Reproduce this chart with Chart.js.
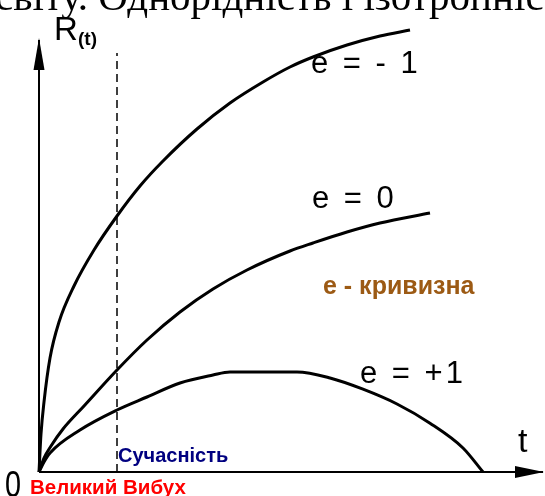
<!DOCTYPE html>
<html>
<head>
<meta charset="utf-8">
<script src="https://cdn.jsdelivr.net/npm/chart.js@4/dist/chart.umd.min.js"></script>
<style>
    html, body { margin: 0; padding: 0; background: #fff; }
    #wrap { width: 545px; height: 496px; position: relative; }
</style>
</head>
<body>
<div id="wrap"><canvas id="universe-chart"></canvas></div>
<script>
// t (x) and R(t) (y) samples, arbitrary units
var openT = [0, 0.4, 1, 2.2, 4, 7, 11, 15.6, 20.2, 24.8, 31.6, 38.2, 44.8, 50.2, 54.8, 61.6, 68.2, 74.2];
var openR = [0, 9.5, 17.5, 28.5, 37.5, 46.5, 55.5, 64, 71.5, 77.75, 85.75, 92.25, 97.5, 101.25, 103.75, 106.75, 109, 110.5];

var flatT = [0, 1, 2.4, 4.8, 9, 15.6, 21.6, 28.2, 34.8, 41.6, 50.2, 54.8, 61.6, 68.2, 78.2];
var flatR = [0, 3.5, 6.5, 10.75, 16.5, 25.5, 33, 40, 45.75, 50.5, 55.25, 57.25, 60, 62.25, 64.75];

var closedT = [0, 1, 2.2, 8.2, 15.6, 21.6, 28.2, 34.8, 38.2, 44.2, 51.6, 58.2, 64.8, 71.6, 78.2, 84.8, 88.8];
var closedR = [0, 2.5, 4.75, 10.5, 15.5, 18.75, 22.25, 24.25, 25, 25, 25, 23.5, 20.7, 17, 12.2, 6, 0];

var nowT = 15.6;
var nowTop = 104.75;

var curveLabels = ['e = - 1', 'e = 0', 'e = +1'];

function toPoints(xs, ys) {
    var pts = [];
    for (var i = 0; i < xs.length; i++) {
        pts.push({x: xs[i], y: ys[i]});
    }
    return pts;
}

function curve(label, xs, ys) {
    return {
        label: label,
        data: toPoints(xs, ys),
        showLine: true,
        borderColor: '#000',
        borderWidth: 3,
        pointRadius: 0,
        cubicInterpolationMode: 'monotone',
        clip: false
    };
}

// axes, arrows and all the captions
var sketchPlugin = {
    id: 'sketch',
    beforeDraw: function (chart) {
        var ctx = chart.ctx;
        ctx.save();
        ctx.fillStyle = '#fff';
        ctx.fillRect(0, 0, chart.width, chart.height);
        ctx.restore();
    },
    afterDraw: function (chart) {
        var ctx = chart.ctx;
        var x0 = chart.scales.x.getPixelForValue(0);
        var y0 = chart.scales.y.getPixelForValue(0);

        ctx.save();
        ctx.strokeStyle = '#000';
        ctx.fillStyle = '#000';
        ctx.lineWidth = 2;
        ctx.beginPath();
        ctx.moveTo(x0, y0);
        ctx.lineTo(543, y0);
        ctx.moveTo(x0, y0);
        ctx.lineTo(x0, 40);
        ctx.stroke();

        ctx.beginPath();
        ctx.moveTo(x0, 38);
        ctx.lineTo(x0 + 5.5, 70);
        ctx.lineTo(x0 - 5.5, 70);
        ctx.closePath();
        ctx.fill();

        ctx.beginPath();
        ctx.moveTo(544, y0);
        ctx.lineTo(515, y0 - 6);
        ctx.lineTo(515, y0 + 6);
        ctx.closePath();
        ctx.fill();

        ctx.textBaseline = 'alphabetic';
        ctx.font = '41px "Liberation Serif"';
        ctx.fillText('світу. Однорідність і ізотропність', -5, 10);

        ctx.font = '33px "Liberation Sans"';
        ctx.fillText('R', 54, 40);
        ctx.font = 'bold 19px "Liberation Sans"';
        ctx.fillText('(t)', 78, 45);

        ctx.font = '34px "Liberation Sans"';
        ctx.fillText('t', 518, 452);

        ctx.save();
        ctx.translate(5, 497);
        ctx.scale(0.8, 1);
        ctx.font = '36px "Liberation Sans"';
        ctx.fillText('0', 0, 0);
        ctx.restore();

        ctx.font = '31px "Liberation Sans"';
        ctx.letterSpacing = '3px';
        ctx.fillText(curveLabels[0], 311, 73);
        ctx.fillText(curveLabels[1], 312, 208);
        ctx.fillText(curveLabels[2], 360, 383);
        ctx.letterSpacing = '0px';

        ctx.font = 'bold 25px "Liberation Sans"';
        ctx.fillStyle = '#9c5a14';
        ctx.fillText('e - кривизна', 323, 294);

        ctx.font = 'bold 20px "Liberation Sans"';
        ctx.fillStyle = '#000080';
        ctx.fillText('Сучасність', 118, 462);

        ctx.font = 'bold 20.5px "Liberation Sans"';
        ctx.fillStyle = '#ff0000';
        ctx.fillText('Великий Вибух', 30, 494);
        ctx.restore();
    }
};

var ctx = document.getElementById('universe-chart');
var chart = new Chart(ctx, {
    type: 'scatter',
    data: {
        datasets: [
            curve(curveLabels[0], openT, openR),
            curve(curveLabels[1], flatT, flatR),
            curve(curveLabels[2], closedT, closedR),
            {
                label: 'now',
                data: [{x: nowT, y: 0}, {x: nowT, y: nowTop}],
                showLine: true,
                borderColor: '#000',
                borderWidth: 1.5,
                borderDash: [8, 5],
                pointRadius: 0
            }
        ]
    },
    options: {
        responsive: true,
        maintainAspectRatio: false,
        animation: false,
        layout: {
            padding: {left: 39, right: 6, top: 24, bottom: 24}
        },
        plugins: {
            legend: {display: false},
            tooltip: {enabled: false}
        },
        scales: {
            x: {type: 'linear', min: 0, max: 100, display: false},
            y: {type: 'linear', min: 0, max: 112, display: false}
        }
    },
    plugins: [sketchPlugin]
});
</script>
</body>
</html>
